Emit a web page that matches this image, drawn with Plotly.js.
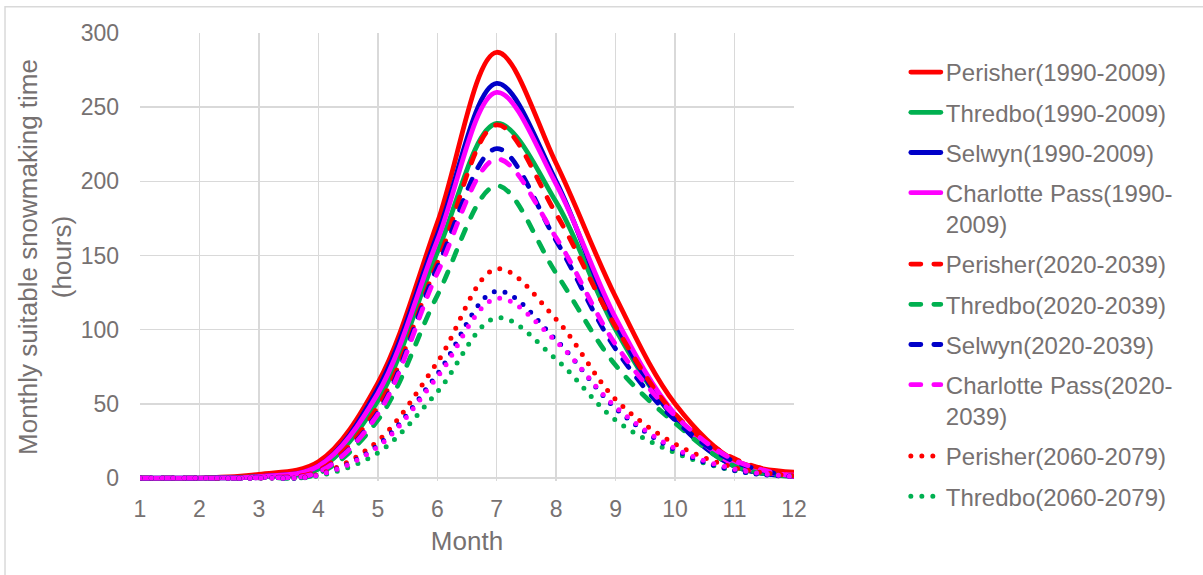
<!DOCTYPE html>
<html>
<head>
<meta charset="utf-8">
<script src="https://cdn.plot.ly/plotly-3.0.1.min.js"></script>
<style>
  html, body { margin: 0; padding: 0; background: #ffffff; }
  #chart { width: 1203px; height: 575px; }
  path.js-line { stroke-linecap: round !important; stroke-linejoin: round !important; }
</style>
</head>
<body>
<div id="chart"></div>
<script>
// Months (x axis)
const months = [1, 2, 3, 4, 5, 6, 7, 8, 9, 10, 11, 12];

// Series names
const seriesNames = [
  "Perisher(1990-2009)",
  "Thredbo(1990-2009)",
  "Selwyn(1990-2009)",
  "Charlotte Pass(1990-<br>2009)",
  "Perisher(2020-2039)",
  "Thredbo(2020-2039)",
  "Selwyn(2020-2039)",
  "Charlotte Pass(2020-<br>2039)",
  "Perisher(2060-2079)",
  "Thredbo(2060-2079)",
  "Selwyn(2060-2079)",
  "Charlotte Pass(2060-2079)"
];

// Monthly suitable snowmaking time (hours)
const perisher1990  = [0, 0, 2.5, 11, 64, 172, 287, 212, 122, 50, 12, 4];
const thredbo1990   = [0, 0, 1, 6, 52, 152, 239, 186, 100, 40, 8, 1.5];
const selwyn1990    = [0, 0, 1, 8, 60, 164, 266, 200, 104, 40, 8, 1.5];
const charlotte1990 = [0, 0, 1, 8, 57, 160, 260, 198, 108, 43, 9, 2];

const perisher2020  = [0, 0, 0.5, 5, 48, 145, 238, 178, 102, 43, 13, 2];
const thredbo2020   = [0, 0, 0.3, 3, 39, 123, 197, 138, 76, 37, 8, 1];
const selwyn2020    = [0, 0, 0.3, 4, 44, 142, 222, 160, 87, 39, 11, 1];
const charlotte2020 = [0, 0, 0.3, 4, 43, 138, 215, 162, 90, 42, 12, 1];

const perisher2060  = [0, 0, 0, 2.5, 25, 78, 141, 107, 53, 23, 7, 1.5];
const thredbo2060   = [0, 0, 0, 1.5, 17, 58, 108, 80, 39, 17, 5, 1];
const selwyn2060    = [0, 0, 0, 2, 22, 70, 126, 93, 47, 19, 5, 1];
const charlotte2060 = [0, 0, 0, 2, 21, 68, 121, 92, 48, 20, 6, 1];

const seriesValues = [
  perisher1990, thredbo1990, selwyn1990, charlotte1990,
  perisher2020, thredbo2020, selwyn2020, charlotte2020,
  perisher2060, thredbo2060, selwyn2060, charlotte2060
];

// Tick labels
const yTicks = [0, 50, 100, 150, 200, 250, 300];
const xTicks = months;

// Styles
const palette = ["#FF0000", "#00B050", "#0000C8", "#FF00FF"];
const dashes = ["solid", "10px,13px", "0px,11px"];
const widths = [4.8, 4.8, 5];
const textColor = "#767171";
const gridColor = "#D9D9D9";

const traces = seriesValues.map((vals, i) => {
  const period = Math.floor(i / 4);
  return {
    type: "scatter",
    mode: "lines",
    x: months,
    y: vals,
    name: seriesNames[i],
    legendgroup: "g" + i,
    showlegend: i < 10,
    line: {
      color: palette[i % 4],
      width: widths[period],
      dash: dashes[period],
      shape: "spline",
      smoothing: 1
    },
    hoverinfo: "skip"
  };
});

const layout = {
  width: 1203,
  height: 575,
  margin: { l: 140, r: 409, t: 33, b: 94 },
  paper_bgcolor: "#ffffff",
  plot_bgcolor: "#ffffff",
  font: { family: "Liberation Sans, Arial, sans-serif", color: textColor, size: 23 },
  showlegend: true,
  legend: {
    x: 1.171,
    xanchor: "left",
    y: 0.962,
    yanchor: "top",
    maxheight: 570,
    font: { family: "Liberation Sans, Arial, sans-serif", size: 24, color: textColor },
    tracegroupgap: 6,
    valign: "top",
    itemwidth: 30,
    bgcolor: "rgba(0,0,0,0)",
    traceorder: "grouped"
  },
  xaxis: {
    range: [1, 12],
    tickvals: xTicks,
    ticktext: xTicks.map(String),
    showgrid: true,
    gridcolor: gridColor,
    gridwidth: 1.5,
    zeroline: false,
    showline: false,
    ticks: "",
    ticklabelstandoff: 12,
    tickfont: { size: 23, color: textColor },
    title: { text: "Month", font: { size: 26, color: textColor }, standoff: 10 }
  },
  yaxis: {
    range: [-2, 300],
    tickvals: yTicks,
    ticktext: yTicks.map(String),
    showgrid: true,
    gridcolor: gridColor,
    gridwidth: 1.5,
    zeroline: true,
    zerolinecolor: gridColor,
    zerolinewidth: 1.5,
    showline: false,
    ticks: "",
    ticklabelstandoff: 20,
    tickfont: { size: 23, color: textColor },
    title: {
      text: "Monthly suitable snowmaking time<br>(hours)",
      font: { size: 26, color: textColor },
      standoff: 1
    }
  },
  shapes: [{
    type: "rect",
    xref: "paper", yref: "paper",
    x0: -0.2064, x1: 1.64, y0: -0.3, y1: 1.0584,
    line: { color: "#D9D9D9", width: 1.5 },
    fillcolor: "rgba(0,0,0,0)",
    layer: "below"
  }]
};

Plotly.newPlot("chart", traces, layout, { staticPlot: true, displayModeBar: false });
</script>
</body>
</html>
